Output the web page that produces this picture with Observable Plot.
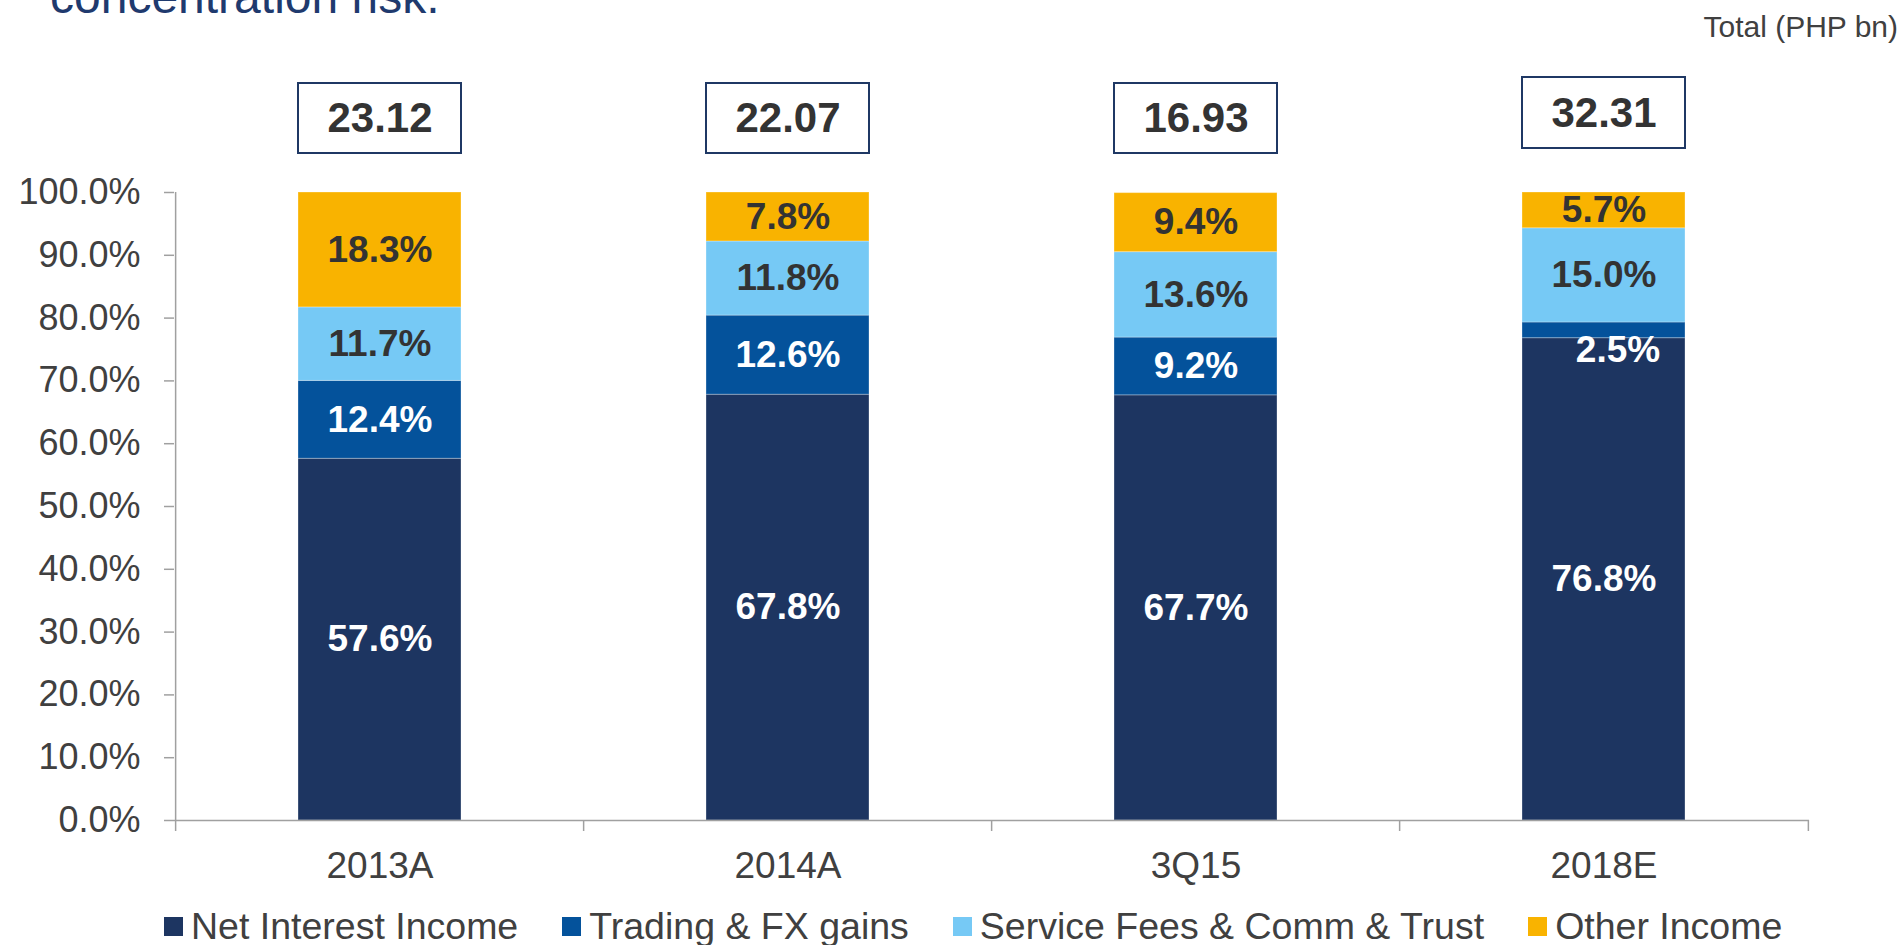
<!DOCTYPE html>
<html>
<head>
<meta charset="utf-8">
<script src="https://cdn.jsdelivr.net/npm/d3@7"></script>
<script src="https://cdn.jsdelivr.net/npm/@observablehq/plot@0.6"></script>
<style>
  html, body { margin: 0; padding: 0; background: #fff; }
  body { width: 1904px; height: 945px; position: relative; overflow: hidden; font-family: "Liberation Sans", Arial, sans-serif; }
  #chart { position: absolute; left: 0; top: 0; z-index: 0; }
  #title { position: absolute; left: 50px; top: -27px; font-size: 48px; line-height: 48px; color: #1f3a6e; white-space: nowrap; z-index: 1; }
  #unit { position: absolute; right: 6px; top: 12px; font-size: 30px; line-height: 30px; color: #404040; white-space: nowrap; z-index: 1; }
  #legend { position: absolute; left: 164px; top: 908px; display: flex; gap: 44px; font-size: 37.5px; line-height: 37.5px; color: #404040; white-space: nowrap; z-index: 1; }
  .item { display: flex; align-items: center; gap: 8px; }
  .sw { width: 19px; height: 19px; display: inline-block; }
</style>
</head>
<body>
<div id="chart"></div>
<div id="title">concentration risk.</div>
<div id="unit">Total (PHP bn)</div>
<div id="legend"></div>
<script>
// ---- data ----
const periods = ["2013A", "2014A", "3Q15", "2018E"];
const seriesNames = ["Net Interest Income", "Trading & FX gains", "Service Fees & Comm & Trust", "Other Income"];
const netInterest = [57.6, 67.8, 67.7, 76.8];
const trading = [12.4, 12.6, 9.2, 2.5];
const serviceFees = [11.7, 11.8, 13.6, 15.0];
const otherIncome = [18.3, 7.8, 9.4, 5.7];
const totals = [23.12, 22.07, 16.93, 32.31];
const yTicks = [0, 10, 20, 30, 40, 50, 60, 70, 80, 90, 100];
const seriesColors = ["#1d3561", "#04529b", "#76c9f5", "#f9b300"];

// ---- table built from arrays ----
const seriesValues = [netInterest, trading, serviceFees, otherIncome];
const rows = [];
periods.forEach((p, i) => {
  seriesNames.forEach((s, j) => rows.push({period: p, series: s, value: seriesValues[j][i]}));
});
const totalRows = periods.map((p, i) => ({period: p, total: totals[i]}));

// ---- layout ----
const W = 1904, H = 900;
const mL = 174, mR = 95, mT = 192, mB = 80;
const halfStep = (W - mL - mR) / periods.length / 2;
const font = "Liberation Sans, Arial, sans-serif";
const axisGray = "#a0a0a0";
const textDark = "#333333";

const fmt = v => v.toFixed(1) + "%";
const whiteSeries = new Set([seriesNames[0], seriesNames[1]]);
const isSpecial = d => d.period === "2018E" && d.series === seriesNames[1];

const stackOpts = (textFn) => Plot.stackY({x: "period", y: "value", z: "series", text: textFn});

const chart = Plot.plot({
  width: W,
  height: H,
  marginTop: mT,
  marginBottom: mB,
  marginLeft: mL,
  marginRight: mR,
  style: {fontFamily: font, background: "white", overflow: "visible"},
  x: {domain: periods, paddingInner: 0.6, paddingOuter: 0.3, label: null},
  y: {domain: [0, 100], label: null},
  color: {domain: seriesNames, range: seriesColors},
  marks: [
    Plot.barY(rows, {x: "period", y: "value", z: "series", fill: "series",
                     stroke: "white", strokeOpacity: 0.3, strokeWidth: 1}),
    // y axis
    Plot.axisY({ticks: yTicks, tickFormat: d => d.toFixed(1) + "%", tickSize: 10, tickPadding: 24,
                fontSize: 36, stroke: axisGray, fill: "#404040", strokeWidth: 1.5, label: null}),
    Plot.ruleX([periods[0]], {x: d => d, y1: 0, y2: 100, dx: -halfStep, stroke: axisGray, strokeWidth: 1.5}),
    // x axis line and boundary ticks
    Plot.ruleY([0], {stroke: axisGray, strokeWidth: 1.5}),
    Plot.ruleX(periods, {x: d => d, y1: 0, y2: 0, insetBottom: -11, dx: -halfStep, stroke: axisGray, strokeWidth: 1.5}),
    Plot.ruleX([periods[periods.length - 1]], {x: d => d, y1: 0, y2: 0, insetBottom: -11, dx: halfStep, stroke: axisGray, strokeWidth: 1.5}),
    Plot.axisX({tickSize: 0, tickPadding: 31, fontSize: 37, fill: "#404040", label: null}),
    // segment labels
    Plot.text(rows, {...stackOpts(d => whiteSeries.has(d.series) && !isSpecial(d) ? fmt(d.value) : null),
                     fill: "white", fontSize: 37, fontWeight: "bold"}),
    Plot.text(rows, {...stackOpts(d => !whiteSeries.has(d.series) ? fmt(d.value) : null),
                     fill: textDark, fontSize: 37, fontWeight: "bold"}),
    Plot.text(rows, {...stackOpts(d => isSpecial(d) ? fmt(d.value) : null),
                     fill: "white", fontSize: 37, fontWeight: "bold", dx: 14, dy: 20}),
    // total boxes
    Plot.barY(totalRows, {x: "period", y1: 100, y2: 100, filter: d => d.period !== "2018E",
                          insetTop: -109, insetBottom: 39, fill: "white", stroke: "#1f3864", strokeWidth: 2}),
    Plot.barY(totalRows, {x: "period", y1: 100, y2: 100, filter: d => d.period === "2018E",
                          insetTop: -115, insetBottom: 44, fill: "white", stroke: "#1f3864", strokeWidth: 2}),
    Plot.text(totalRows, {x: "period", frameAnchor: "top", lineAnchor: "middle", dy: -73.5, filter: d => d.period !== "2018E",
                          text: d => d.total.toFixed(2), fontSize: 42, fontWeight: "bold", fill: textDark}),
    Plot.text(totalRows, {x: "period", frameAnchor: "top", lineAnchor: "middle", dy: -78.5, filter: d => d.period === "2018E",
                          text: d => d.total.toFixed(2), fontSize: 42, fontWeight: "bold", fill: textDark})
  ]
});
document.getElementById("chart").appendChild(chart);

// ---- legend ----
const legend = document.getElementById("legend");
seriesNames.forEach((s, j) => {
  const item = document.createElement("div");
  item.className = "item";
  const sw = document.createElement("span");
  sw.className = "sw";
  sw.style.background = seriesColors[j];
  const label = document.createElement("span");
  label.textContent = s;
  item.appendChild(sw);
  item.appendChild(label);
  legend.appendChild(item);
});
</script>
</body>
</html>
